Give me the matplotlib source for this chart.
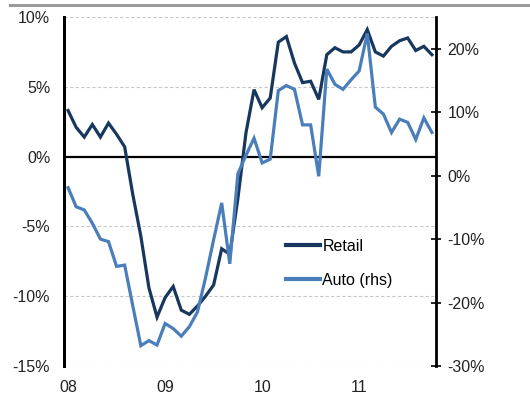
import matplotlib
matplotlib.use("Agg")
import matplotlib.pyplot as plt
from matplotlib.lines import Line2D

plt.rcParams['font.family'] = ['Liberation Sans', 'DejaVu Sans']

# Monthly year-on-year growth, Jan 2008 - Oct 2011
retail = [
    3.3, 2.1, 1.4, 2.3, 1.4, 2.4, 1.6, 0.7, -2.7, -5.7, -9.4, -11.5,      # 2008
    -10.1, -9.3, -11.0, -11.3, -10.7, -10.0, -9.2, -6.6, -7.0, -3.0, 1.7, 4.8,  # 2009
    3.5, 4.2, 8.2, 8.6, 6.7, 5.3, 5.4, 4.1, 7.3, 7.8, 7.5, 7.5,          # 2010
    8.0, 9.1, 7.5, 7.2, 7.9, 8.3, 8.5, 7.6, 7.9, 7.3,                    # 2011
]
auto = [
    -1.9, -4.9, -5.4, -7.5, -10.0, -10.4, -14.3, -14.1, -20.5, -26.8, -26.0, -26.7,
    -23.3, -24.1, -25.3, -23.8, -21.5, -16.1, -10.1, -4.3, -13.9, 0.3, 3.2, 5.9,
    2.0, 2.6, 13.4, 14.2, 13.6, 8.0, 8.0, -0.1, 16.8, 14.4, 13.6, 15.1,
    16.5, 22.4, 10.8, 9.7, 6.8, 8.9, 8.4, 5.7, 9.1, 6.8,
]
year_labels = ['08', '09', '10', '11']
left_ticks = [10, 5, 0, -5, -10, -15]
right_ticks = [20, 10, 0, -10, -20, -30]

DARK = '#17375E'
LIGHT = '#4A7EBB'

months = list(range(len(retail)))

fig = plt.figure(figsize=(5.30, 4.18), dpi=100)
ax = fig.add_axes([0.1208, 0.1244, 0.7018, 0.8349])
ax2 = ax.twinx()

ax.set_xlim(-0.5, len(retail) - 0.5)
ax.set_ylim(-15, 10)
ax2.set_ylim(-30, 25)

# dashed horizontal guides on the left scale, solid zero line
for v in left_ticks:
    if v == 0:
        ax.axhline(0, color='black', lw=1.6, zorder=2)
    else:
        ax.axhline(v, color='#C8C8C8', lw=0.8, ls=(0, (3, 2)), zorder=1)

ax.plot(months, retail, color=DARK, lw=2.3, solid_joinstyle='miter', zorder=3)
ax2.plot(months, auto, color=LIGHT, lw=2.3, solid_joinstyle='miter', zorder=3)

# left axis
ax.set_yticks(left_ticks)
ax.set_yticklabels([f'{v}%' for v in left_ticks])
ax.tick_params(axis='y', length=0, pad=10, labelsize=11.5, colors='#222222')
ax.set_xticks([0, 12, 24, 36])
ax.set_xticklabels(year_labels)
ax.tick_params(axis='x', length=0, pad=10, labelsize=11.5, colors='#222222')

# right axis
ax2.set_yticks(right_ticks)
ax2.set_yticklabels([f'{v}%' for v in right_ticks])
ax2.tick_params(axis='y', direction='inout', length=6.5, width=1.2, pad=5,
                labelsize=11.5, colors='#222222')
ax2.tick_params(axis='y', color='black')

for a in (ax, ax2):
    for side in ('top', 'bottom'):
        a.spines[side].set_visible(False)
ax.spines['right'].set_visible(False)
ax2.spines['left'].set_linewidth(2)
ax2.spines['right'].set_linewidth(2)
ax.spines['left'].set_linewidth(2)

handles = [Line2D([], [], color=DARK, lw=3), Line2D([], [], color=LIGHT, lw=3)]
ax2.legend(handles, ['Retail', 'Auto (rhs)'], loc='upper left',
           bbox_to_anchor=(0.598, 0.365), frameon=False, fontsize=11.5,
           handlelength=2.1, handletextpad=0.15, labelspacing=1.2,
           borderaxespad=0, borderpad=0)

# header rule
fig.add_artist(Line2D([10 / 530, 1.0], [1 - 5.3 / 418] * 2, color='#9A9A9A', lw=2.2))

fig.savefig('out.png', dpi=100)
